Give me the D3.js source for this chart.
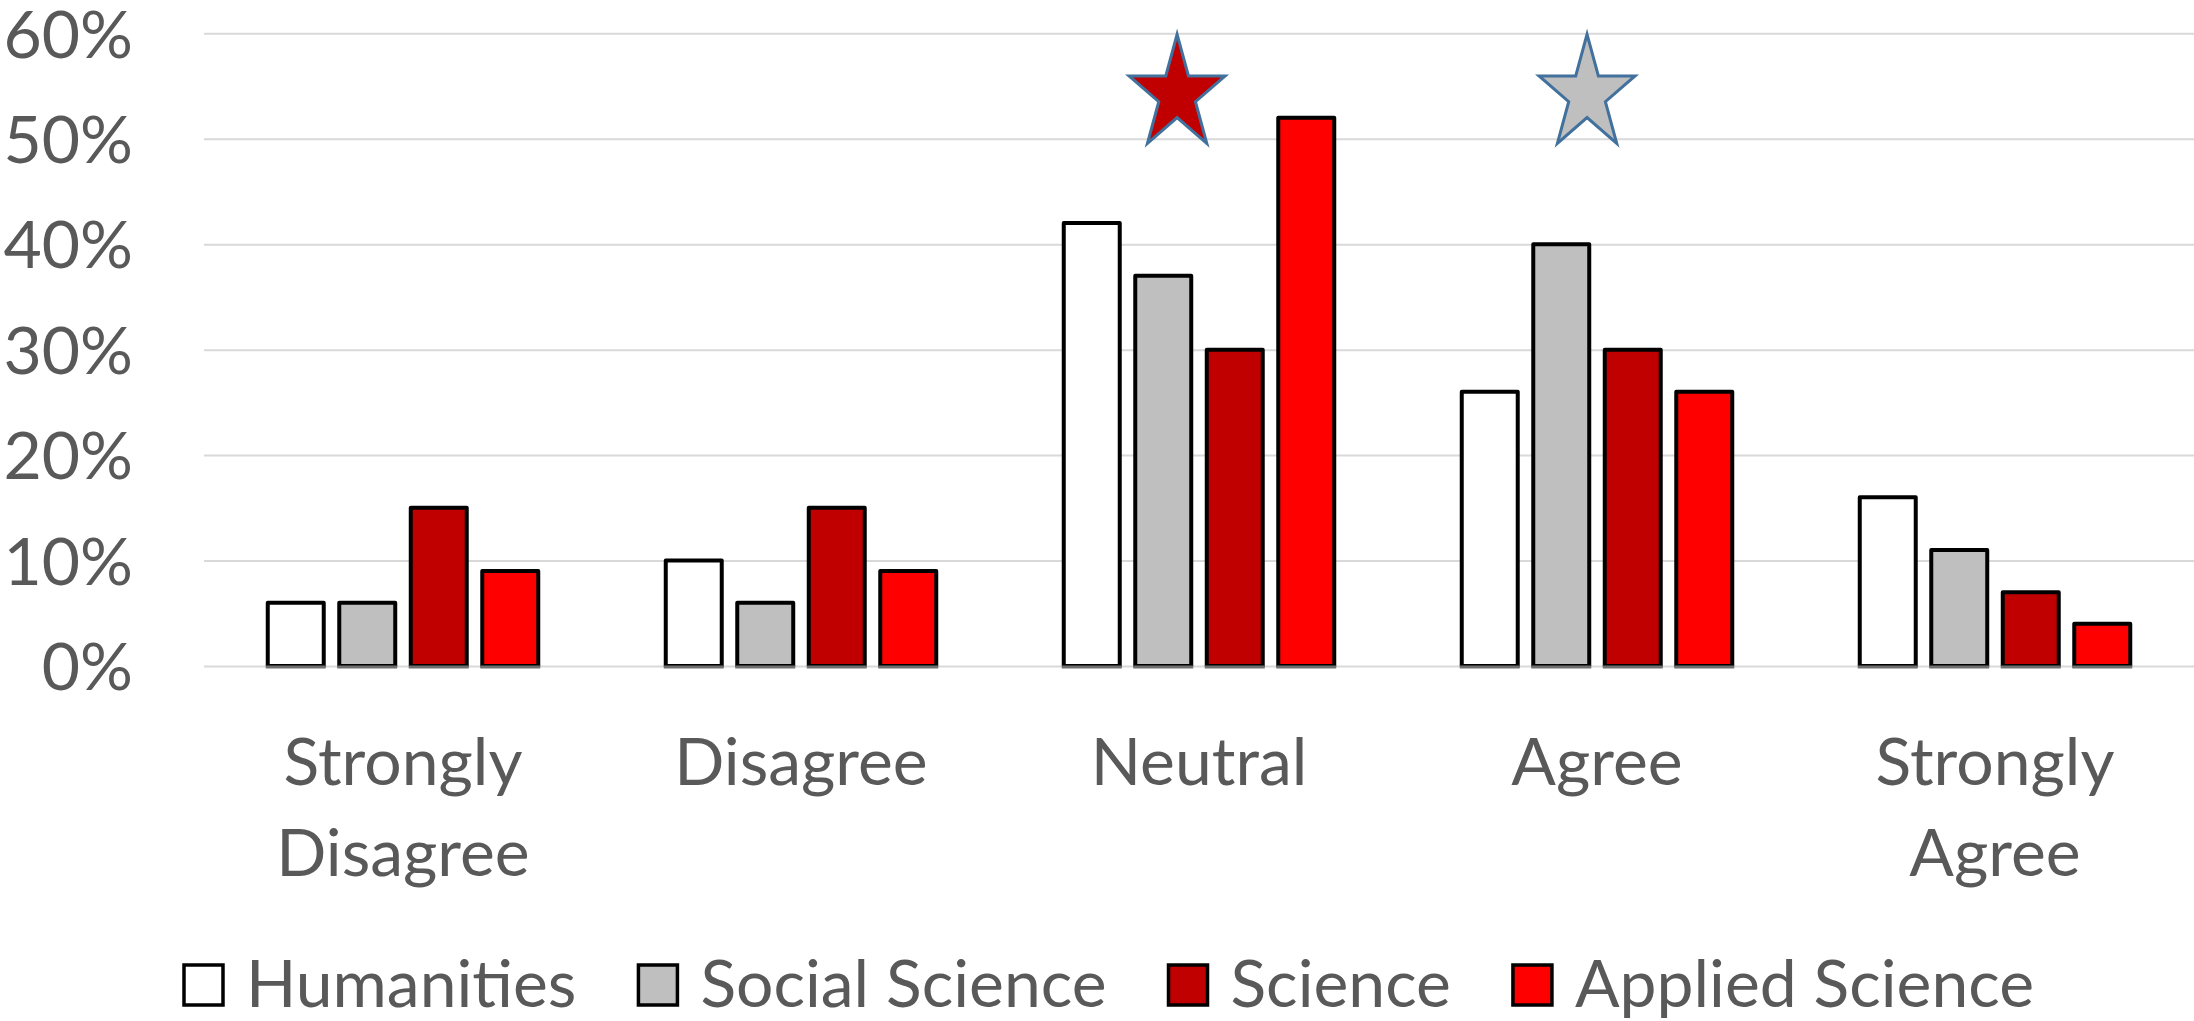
<!DOCTYPE html>
<html>
<head>
<meta charset="utf-8">
<script src="https://cdn.jsdelivr.net/npm/d3@7/dist/d3.min.js"></script>
<style>
  html, body { margin: 0; padding: 0; background: #ffffff; }
  svg { display: block; }
  text { font-family: Lato, "Open Sans", sans-serif; fill: #595959; }
</style>
</head>
<body>
<svg id="chart" width="2194" height="1021"></svg>
<script>
// ---- data ----
const categories = ["Strongly Disagree", "Disagree", "Neutral", "Agree", "Strongly Agree"];
const categoryLines = [["Strongly", "Disagree"], ["Disagree"], ["Neutral"], ["Agree"], ["Strongly", "Agree"]];
const series = ["Humanities", "Social Science", "Science", "Applied Science"];
const seriesColors = ["#FFFFFF", "#BFBFBF", "#C00000", "#FF0000"];
const humanities     = [6, 10, 42, 26, 16];
const socialScience  = [6, 6, 37, 40, 11];
const science        = [15, 15, 30, 30, 7];
const appliedScience = [9, 9, 52, 26, 4];
const yTicks = [0, 10, 20, 30, 40, 50, 60];
const yTickLabels = ["0%", "10%", "20%", "30%", "40%", "50%", "60%"];
// star annotations
const starCategories = ["Neutral", "Agree"];
const starFills = ["#C00000", "#BFBFBF"];
const starOffsets = [-0.055, -0.025]; // fraction of category band from its centre

const values = [humanities, socialScience, science, appliedScience];

// ---- layout ----
const W = 2194, H = 1021;
const plot = { left: 204, right: 2194, top: 33.3, bottom: 666 };
const fontSize = 66;

const svg = d3.select("#chart");

const x0 = d3.scaleBand().domain(categories).range([plot.left, plot.right]).padding(0);
const bw = x0.bandwidth();
const groupW = bw * 0.7186;
const x1 = d3.scaleBand().domain(series)
  .range([(bw - groupW) / 2, (bw + groupW) / 2])
  .paddingInner(0.217).paddingOuter(0.1085);
const y = d3.scaleLinear().domain([0, 60]).range([plot.bottom, plot.top]);

// gridlines
svg.append("g")
  .attr("transform", `translate(${plot.left},0)`)
  .call(d3.axisLeft(y).tickValues(yTicks).tickSize(-(plot.right - plot.left)).tickFormat(""))
  .call(g => g.select(".domain").remove())
  .call(g => g.selectAll("line").attr("stroke", "#D9D9D9").attr("stroke-width", 2));

// y tick labels
svg.append("g")
  .attr("transform", `translate(${plot.left},0)`)
  .call(d3.axisLeft(y).tickValues(yTicks).tickSize(0).tickPadding(71)
    .tickFormat((d, i) => yTickLabels[i]))
  .call(g => g.select(".domain").remove())
  .call(g => g.selectAll("text")
    .attr("font-size", fontSize).attr("fill", "#595959")
    .attr("font-family", "Lato, 'Open Sans', sans-serif")
    .attr("dy", "0.36em"));

// bars
const groups = svg.append("g").selectAll("g")
  .data(categories)
  .join("g")
  .attr("transform", d => `translate(${x0(d)},0)`);

groups.each(function(cat, ci) {
  const g = d3.select(this);
  series.forEach((s, si) => {
    const v = values[si][ci];
    g.append("rect")
      .attr("x", x1(s))
      .attr("y", y(v))
      .attr("width", x1.bandwidth())
      .attr("height", y(0) - y(v))
      .attr("fill", seriesColors[si])
      .attr("stroke", "#000000")
      .attr("stroke-width", 4)
      .attr("stroke-linejoin", "round");
    g.append("line")
      .attr("x1", x1(s) - 2).attr("x2", x1(s) + x1.bandwidth() + 2)
      .attr("y1", y(0) + 1).attr("y2", y(0) + 1)
      .attr("stroke", "#6f6f6f").attr("stroke-width", 3);
  });
});

// category labels
const catG = svg.append("g");
categories.forEach((cat, ci) => {
  const t = catG.append("text")
    .attr("x", x0(cat) + bw / 2)
    .attr("y", 785)
    .attr("text-anchor", "middle")
    .attr("font-size", fontSize);
  categoryLines[ci].forEach((line, li) => {
    t.append("tspan")
      .attr("x", x0(cat) + bw / 2)
      .attr("dy", li === 0 ? 0 : 91)
      .text(line);
  });
});

// stars
const starW = 96, starH = 109;
function starPath(cx, top) {
  const sx = (starW / 2) / Math.sin(72 * Math.PI / 180);
  const sy = starH / (1 + Math.cos(36 * Math.PI / 180));
  const cy = top + sy;
  const pts = [];
  for (let i = 0; i < 10; i++) {
    const a = (-90 + i * 36) * Math.PI / 180;
    const r = i % 2 === 0 ? 1 : 0.382;
    pts.push([cx + Math.cos(a) * r * sx, cy + Math.sin(a) * r * sy]);
  }
  return "M" + pts.map(p => p.join(",")).join("L") + "Z";
}
starCategories.forEach((cat, i) => {
  svg.append("path")
    .attr("d", starPath(x0(cat) + bw / 2 + starOffsets[i] * bw, y(60) + 1))
    .attr("fill", starFills[i])
    .attr("stroke", "#41719C")
    .attr("stroke-width", 3)
    .attr("stroke-linejoin", "miter");
});

// legend
const legend = svg.append("g");
const boxW = 43, boxH = 44, boxGap = 21, itemGap = 60, legendCenter = 1108, legendBaseline = 1007;
let cursor = 0;
const items = series.map((s, i) => {
  const g = legend.append("g");
  g.append("rect")
    .attr("x", 0).attr("y", legendBaseline - boxH)
    .attr("width", boxW - 4).attr("height", boxH - 4)
    .attr("transform", "translate(2,2)")
    .attr("fill", seriesColors[i]).attr("stroke", "#000").attr("stroke-width", 3.5);
  const t = g.append("text")
    .attr("x", boxW + boxGap).attr("y", legendBaseline)
    .attr("font-size", fontSize).text(s);
  const w = boxW + boxGap + t.node().getComputedTextLength();
  g.attr("transform", `translate(${cursor},0)`);
  cursor += w + itemGap;
  return g;
});
const total = cursor - itemGap;
legend.attr("transform", `translate(${legendCenter - total / 2},0)`);
</script>
</body>
</html>
